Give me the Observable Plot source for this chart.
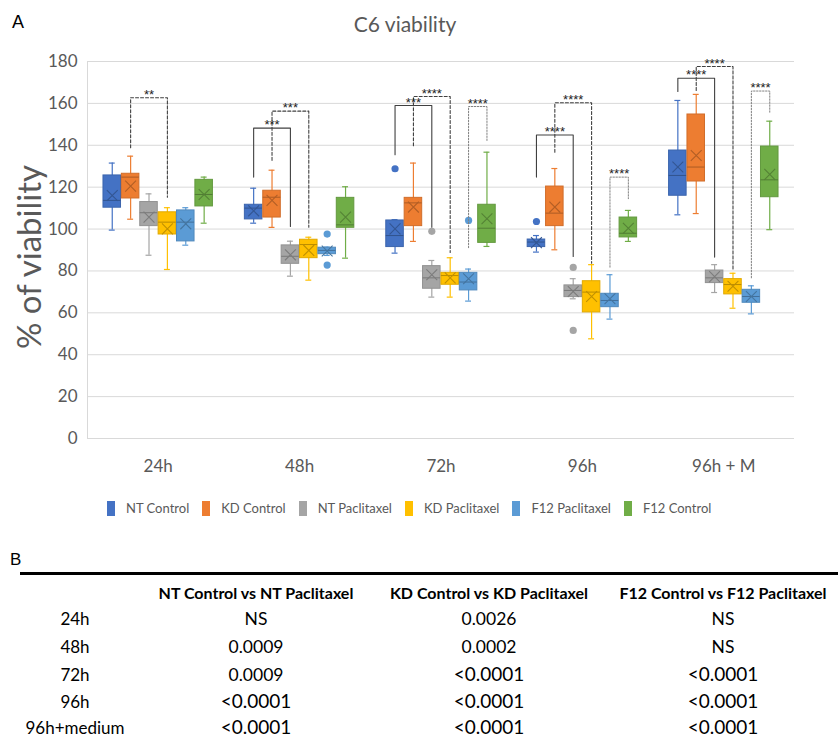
<!DOCTYPE html>
<html><head><meta charset="utf-8">
<script src="https://cdn.jsdelivr.net/npm/d3@7"></script>
<script src="https://cdn.jsdelivr.net/npm/@observablehq/plot@0.6"></script>
<style>
body{margin:0;background:#fff;font-family:Lato,sans-serif;}
#wrap{position:relative;width:838px;height:740px;overflow:hidden;background:#fff;}
.abs{position:absolute;white-space:nowrap;}
#chart{position:absolute;left:0;top:0;}
</style></head><body><div id="wrap"><div id="chart"></div></div>
<script>
// ---------- data ----------
const categories = ["24h", "48h", "72h", "96h", "96h + M"];
const series = ["NT Control", "KD Control", "NT Paclitaxel", "KD Paclitaxel", "F12 Paclitaxel", "F12 Control"];
const colors = ["#4472C4", "#ED7D31", "#A5A5A5", "#FFC000", "#5B9BD5", "#70AD47"];
const yTicks = [0, 20, 40, 60, 80, 100, 120, 140, 160, 180];

// per category (rows) x per series (columns)
const whiskerLow = [
  [99.5, 104.7, 87.5, 80.7, 92.3, 102.8],
  [102.8, 100.8, 77.5, 75.6, 87.4, 86.1],
  [88.5, 94.1, 67.5, 67.5, 65.6, 91.7],
  [89.0, 90.1, 66.7, 47.6, 57.0, 94.1],
  [106.8, 107.4, 69.7, 62.2, 59.5, 99.7]
];
const quartile1 = [
  [110.2, 114.6, 101.4, 97.4, 94.1, 110.8],
  [104.6, 105.5, 83.4, 86.1, 88.0, 100.6],
  [91.4, 101.4, 71.5, 73.4, 70.7, 93.4],
  [91.4, 101.4, 67.5, 60.2, 62.7, 96.0],
  [115.9, 122.7, 74.2, 68.8, 64.8, 115.2]
];
const medians = [
  [113.7, 124.8, 107.8, 103.3, 103.3, 116.5],
  [110.0, 115.2, 87.0, 92.6, 89.8, 102.0],
  [96.9, 112.5, 76.7, 77.8, 74.7, 100.4],
  [93.8, 107.6, 70.7, 69.9, 65.9, 98.0],
  [125.6, 129.6, 76.7, 73.5, 67.8, 123.5]
];
const quartile3 = [
  [125.6, 126.4, 112.9, 108.0, 108.9, 123.5],
  [111.6, 118.3, 92.2, 94.9, 91.1, 114.9],
  [104.1, 114.9, 82.3, 79.1, 79.1, 111.6],
  [95.0, 120.3, 73.1, 75.1, 69.1, 105.5],
  [137.5, 154.7, 80.2, 76.1, 71.0, 139.4]
];
const whiskerHigh = [
  [131.5, 134.8, 116.8, 110.2, 110.2, 124.8],
  [119.5, 128.1, 94.2, 96.1, 91.4, 120.2],
  [104.5, 131.5, 85.0, 86.3, 80.9, 136.7],
  [96.9, 128.9, 76.3, 83.0, 78.2, 108.9],
  [161.4, 164.3, 83.0, 78.9, 72.9, 151.5]
];
const means = [
  [116.0, 120.5, 105.7, 100.1, 102.5, 116.5],
  [108.7, 113.7, 87.7, 89.8, 89.5, 105.7],
  [100.1, 110.5, 78.2, 76.7, 76.3, 104.9],
  [93.5, 110.5, 70.2, 67.8, 66.7, 100.4],
  [129.6, 135.1, 77.3, 72.7, 67.8, 126.1]
];

// outliers
const outlierCategory = ["48h", "48h", "72h", "72h", "72h", "96h", "96h", "96h"];
const outlierSeries = ["F12 Paclitaxel", "F12 Paclitaxel", "NT Control", "NT Paclitaxel", "F12 Paclitaxel", "NT Control", "NT Paclitaxel", "NT Paclitaxel"];
const outlierValue = [97.6, 82.8, 128.8, 98.9, 104.1, 103.6, 81.7, 51.6];

// significance brackets
const bracketCategory = ["24h", "48h", "48h", "72h", "72h", "72h", "96h", "96h", "96h", "96h + M", "96h + M", "96h + M"];
const bracketFrom = ["KD Control", "NT Control", "KD Control", "NT Control", "KD Control", "F12 Paclitaxel", "NT Control", "KD Control", "F12 Paclitaxel", "NT Control", "KD Control", "F12 Paclitaxel"];
const bracketTo = ["KD Paclitaxel", "NT Paclitaxel", "KD Paclitaxel", "NT Paclitaxel", "KD Paclitaxel", "F12 Control", "NT Paclitaxel", "KD Paclitaxel", "F12 Control", "NT Paclitaxel", "KD Paclitaxel", "F12 Control"];
const bracketTop = [162.7, 148.2, 156.3, 159.0, 163.3, 158.5, 144.9, 160.3, 124.8, 172.0, 177.6, 165.9];
const bracketFromEnd = [138.8, 124.8, 132.8, 135.5, 139.8, 91.1, 124.8, 136.7, 81.8, 165.7, 166.2, 76.7];
const bracketToEnd = [115.2, 101.2, 100.9, 100.9, 88.8, 142.3, 86.9, 83.7, 114.5, 86.6, 80.2, 155.8];
const bracketLabel = ["**", "***", "***", "***", "****", "****", "****", "****", "****", "****", "****", "****"];
const bracketKind = ["dashed", "solid", "dashed", "solid", "dashed", "dotted", "solid", "dashed", "dotted", "solid", "dashed", "dotted"];

// table (panel B)
const tableColumns = ["NT Control vs NT Paclitaxel", "KD Control vs KD Paclitaxel", "F12 Control vs F12 Paclitaxel"];
const tableRows = ["24h", "48h", "72h", "96h", "96h+medium"];
const tableValues = [
  ["NS", "0.0026", "NS"],
  ["0.0009", "0.0002", "NS"],
  ["0.0009", "<0.0001", "<0.0001"],
  ["<0.0001", "<0.0001", "<0.0001"],
  ["<0.0001", "<0.0001", "<0.0001"]
];

// ---------- layout helpers ----------
const slot = 0.13, half = 0.062, cap = 0.021;
const ci = c => categories.indexOf(c);
const sj = s => series.indexOf(s);
const pos = (i, j) => i + (j - 2.5) * slot;
const colorOf = s => colors[sj(s)];

const boxes = categories.flatMap((c, i) => series.map((s, j) => ({
  i, j, s,
  low: whiskerLow[i][j], q1: quartile1[i][j], med: medians[i][j],
  q3: quartile3[i][j], high: whiskerHigh[i][j], mean: means[i][j]
})));
const outliers = outlierValue.map((v, k) => ({i: ci(outlierCategory[k]), j: sj(outlierSeries[k]), s: outlierSeries[k], v}));
const brackets = bracketTop.map((t, k) => ({
  k, i: ci(bracketCategory[k]), a: sj(bracketFrom[k]), b: sj(bracketTo[k]),
  top: t, ea: bracketFromEnd[k], eb: bracketToEnd[k], label: bracketLabel[k], kind: bracketKind[k]
}));
const bracketPath = kind => brackets.filter(b => b.kind === kind).flatMap(b => [
  {k: b.k, x: pos(b.i, b.a), y: b.ea},
  {k: b.k, x: pos(b.i, b.a), y: b.top},
  {k: b.k, x: pos(b.i, b.b), y: b.top},
  {k: b.k, x: pos(b.i, b.b), y: b.eb}
]);

const chart = Plot.plot({
  width: 838,
  height: 490,
  marginTop: 61,
  marginBottom: 52,
  marginLeft: 87,
  marginRight: 44,
  style: {fontFamily: "Lato, sans-serif", fontSize: "17px", color: "#595959", background: "transparent", overflow: "visible"},
  x: {domain: [-0.5, categories.length - 0.5], ticks: categories.map((c, i) => i), tickFormat: i => categories[i], tickSize: 0, tickPadding: 21, label: null},
  y: {domain: [0, 180], ticks: yTicks, tickSize: 0, tickPadding: 10, label: null},
  marks: [
    Plot.ruleY(yTicks, {stroke: "#d9d9d9", strokeWidth: 1}),
    Plot.ruleX([-0.5], {y1: 0, y2: 180, stroke: "#d9d9d9"}),
    Plot.ruleX(boxes, {x: d => pos(d.i, d.j), y1: "low", y2: "high", stroke: d => colors[d.j], strokeWidth: 1.2}),
    Plot.ruleY(boxes, {y: "low", x1: d => pos(d.i, d.j) - cap, x2: d => pos(d.i, d.j) + cap, stroke: d => colors[d.j], strokeWidth: 1.2}),
    Plot.ruleY(boxes, {y: "high", x1: d => pos(d.i, d.j) - cap, x2: d => pos(d.i, d.j) + cap, stroke: d => colors[d.j], strokeWidth: 1.2}),
    Plot.rect(boxes, {x1: d => pos(d.i, d.j) - half, x2: d => pos(d.i, d.j) + half, y1: "q1", y2: "q3", fill: d => colors[d.j], stroke: d => d3.color(colors[d.j]).darker(0.35).formatHex(), strokeWidth: 1}),
    Plot.ruleY(boxes, {y: "med", x1: d => pos(d.i, d.j) - half, x2: d => pos(d.i, d.j) + half, stroke: d => d3.color(colors[d.j]).darker(0.9).formatHex(), strokeWidth: 1}),
    Plot.dot(boxes, {x: d => pos(d.i, d.j), y: "mean", symbol: "times", r: 5, stroke: d => d3.color(colors[d.j]).darker(0.8).formatHex(), strokeWidth: 1.1}),
    Plot.dot(outliers, {x: d => pos(d.i, d.j), y: "v", r: 3.6, fill: d => colorOf(d.s), stroke: "none"}),
    Plot.line(bracketPath("solid"), {x: "x", y: "y", z: "k", stroke: "#404040", strokeWidth: 1.1}),
    Plot.line(bracketPath("dashed"), {x: "x", y: "y", z: "k", stroke: "#404040", strokeWidth: 1.1, strokeDasharray: "3,2"}),
    Plot.line(bracketPath("dotted"), {x: "x", y: "y", z: "k", stroke: "#808080", strokeWidth: 1, strokeDasharray: "1.5,1.5"}),
    Plot.text(brackets, {x: d => (pos(d.i, d.a) + pos(d.i, d.b)) / 2, y: "top", text: "label", dy: -3, fontSize: 13, fontFamily: "'Liberation Sans', Arial, sans-serif", fill: "#222", textAnchor: "middle"})
  ]
});
document.getElementById("chart").appendChild(chart);

const wrap = document.getElementById("wrap");
function addText(txt, css) {
  const d = document.createElement("div");
  d.className = "abs";
  d.textContent = txt;
  Object.assign(d.style, css);
  wrap.appendChild(d);
  return d;
}
// panel letters & title
addText("A", {left: "12px", top: "13px", font: "18px 'Liberation Sans', Arial, sans-serif", lineHeight: "18px", color: "#000"});
addText("C6 viability", {left: "305px", width: "200px", textAlign: "center", top: "13px", fontSize: "21px", lineHeight: "21px", color: "#595959"});
addText("% of viability", {left: "28px", top: "257px", fontSize: "33px", lineHeight: "33px", color: "#595959", transform: "translate(-50%,-50%) rotate(-90deg)"});

// legend
const leg = document.createElement("div");
leg.className = "abs";
Object.assign(leg.style, {left: "107px", top: "499px", display: "flex", alignItems: "center", gap: "13px", fontSize: "13px", color: "#595959", lineHeight: "18px"});
series.forEach((s, j) => {
  const it = document.createElement("div");
  Object.assign(it.style, {display: "flex", alignItems: "center", gap: "11px"});
  const sw = document.createElement("span");
  Object.assign(sw.style, {display: "inline-block", width: "8px", height: "15px", background: colors[j]});
  const tx = document.createElement("span");
  tx.textContent = s;
  it.appendChild(sw); it.appendChild(tx);
  leg.appendChild(it);
});
wrap.appendChild(leg);

// panel B
addText("B", {left: "10px", top: "551px", font: "17px 'Liberation Sans', Arial, sans-serif", lineHeight: "17px", color: "#000"});
const rule = document.createElement("div");
rule.className = "abs";
Object.assign(rule.style, {left: "20px", top: "572px", width: "818px", height: "3px", background: "#000"});
wrap.appendChild(rule);

const colCenters = [256, 489, 723];
const rowCenters = [619, 647, 675, 702, 728];
tableColumns.forEach((c, k) => {
  addText(c, {left: (colCenters[k] - 150) + "px", width: "300px", textAlign: "center", top: (593 - 12) + "px", lineHeight: "24px", fontSize: "16px", fontWeight: "700", color: "#000"});
});
tableRows.forEach((r, ri) => {
  addText(r, {left: (75 - 70) + "px", width: "140px", textAlign: "center", top: (rowCenters[ri] - 11) + "px", lineHeight: "22px", fontSize: "17px", color: "#000"});
  tableValues[ri].forEach((v, k) => {
    const big = v.startsWith("<");
    addText(v, {left: (colCenters[k] - 100) + "px", width: "200px", textAlign: "center", top: (rowCenters[ri] - 11 - (big ? 1 : 0)) + "px", lineHeight: "22px", fontSize: big ? "19px" : "17.5px", color: "#000"});
  });
});
</script></body></html>
